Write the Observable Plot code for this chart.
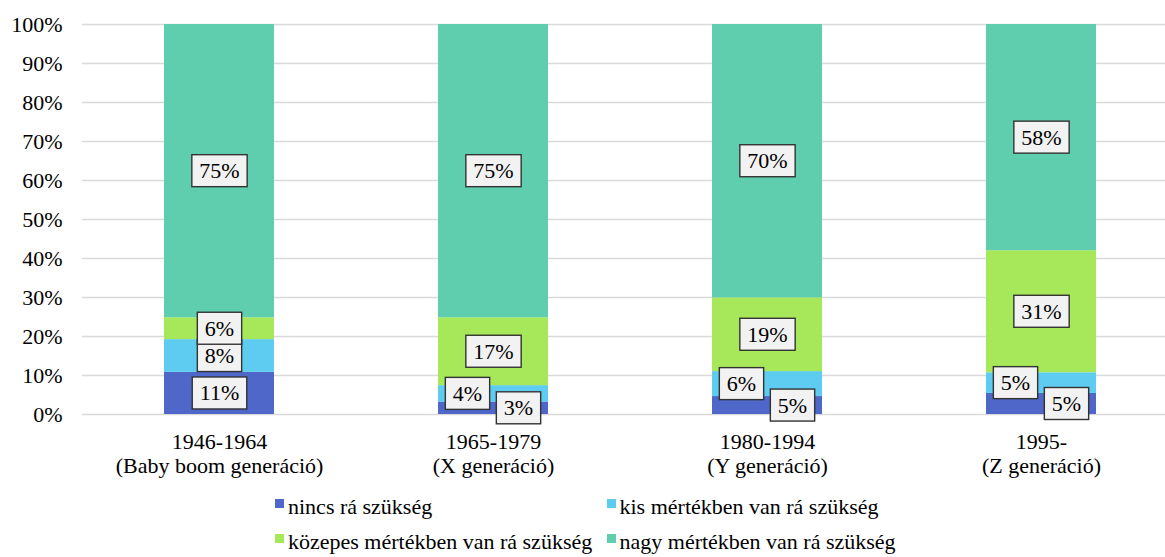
<!DOCTYPE html>
<html>
<head>
<meta charset="utf-8">
<script src="https://cdn.jsdelivr.net/npm/d3@7"></script>
<script src="https://cdn.jsdelivr.net/npm/@observablehq/plot@0.6"></script>
<style>
  html, body { margin: 0; padding: 0; background: #fff; font-family: 'Liberation Serif', 'Times New Roman', serif; }
  #chart svg { display: block; }
  .legend { display: flex; flex-wrap: wrap; padding-left: 275px; width: 700px; margin-top: 9px;
            font-family: 'Liberation Serif', 'Times New Roman', serif; font-size: 22px; color: #000; }
  .legend .item { width: 331.5px; height: 35px; display: flex; align-items: center; white-space: nowrap; }
  .legend .sw { width: 9px; height: 9px; margin-right: 4px; flex: none; position: relative; top: -3px; }
</style>
</head>
<body>
<div id="chart"></div>
<script>
const generations = ["1946-1964", "1965-1979", "1980-1994", "1995-"];
const genNames = ["(Baby boom generáció)", "(X generáció)", "(Y generáció)", "(Z generáció)"];
const categories = [
  "nincs rá szükség",
  "kis mértékben van rá szükség",
  "közepes mértékben van rá szükség",
  "nagy mértékben van rá szükség"
];
const nincs   = [10.8, 3.2, 4.6, 5.4];
const kis     = [8.4, 4.2, 6.4, 5.3];
const kozepes = [5.6, 17.4, 18.9, 31.3];
const nagy    = [75.2, 75.2, 70.1, 58.0];
const colors = ["#4E67C8", "#5ECCF0", "#A7E85A", "#5FCEAF"];
const yTicks = [0, 10, 20, 30, 40, 50, 60, 70, 80, 90, 100];

const series = [nincs, kis, kozepes, nagy];
const data = [];
generations.forEach((g, gi) => {
  categories.forEach((c, ci) => {
    data.push({gen: g, gi, cat: c, ci, value: series[ci][gi]});
  });
});

const fmt = d => Math.round(d.value) + "%";
const shiftedLeft = d => d.gi > 0 && d.ci === 1;
const shiftedRight = d => d.gi > 0 && d.ci === 0;
const centered = d => !shiftedLeft(d) && !shiftedRight(d);

const font = "'Liberation Serif', 'Times New Roman', serif";
const txt = {fill: "#000", fontSize: 22, fontFamily: font, className: "seglabel"};

const chart = Plot.plot({
  width: 1165,
  height: 480,
  marginLeft: 82,
  marginRight: 0,
  marginTop: 24,
  marginBottom: 66,
  style: {fontFamily: font, fontSize: "22px", color: "#000", background: "#fff"},
  x: {domain: generations, range: [82, 1178], paddingInner: 0.6, paddingOuter: 0.3, label: null},
  y: {domain: [0, 100], label: null},
  color: {domain: categories, range: colors},
  marks: [
    Plot.ruleY(yTicks, {stroke: "#d9d9d9", strokeWidth: 1.5}),
    Plot.barY(data, {x: "gen", y: "value", fill: "cat", z: "ci"}),
    Plot.text(data, Plot.stackY({x: "gen", y: "value", z: "ci", text: d => centered(d) ? fmt(d) : "", ...txt})),
    Plot.text(data, Plot.stackY({x: "gen", y: "value", z: "ci", text: d => shiftedLeft(d) ? fmt(d) : "", dx: -26, ...txt})),
    Plot.text(data, Plot.stackY({x: "gen", y: "value", z: "ci", text: d => shiftedRight(d) ? fmt(d) : "", dx: 25, ...txt})),
    Plot.axisY(yTicks, {tickSize: 0, tickPadding: 20, tickFormat: d => d + "%", fontSize: 22, fontFamily: font, fill: "#000"}),
    Plot.axisX({tickSize: 0, tickPadding: 17, lineHeight: 1.11, fontSize: 22, fontFamily: font, fill: "#000",
      tickFormat: d => d + "\n" + genNames[generations.indexOf(d)]})
  ]
});

document.getElementById("chart").appendChild(chart);

// boxes behind the data labels
chart.querySelectorAll("g.seglabel text").forEach(t => {
  if (!t.textContent.trim()) return;
  const b = t.getBBox();
  const padX = 7.5, padY = 3.5;
  const r = document.createElementNS("http://www.w3.org/2000/svg", "rect");
  r.setAttribute("x", b.x - padX);
  r.setAttribute("y", b.y - padY);
  r.setAttribute("width", b.width + 2 * padX);
  r.setAttribute("height", b.height + 2 * padY);
  r.setAttribute("fill", "#f2f2f2");
  r.setAttribute("stroke", "#333");
  r.setAttribute("stroke-width", 1.4);
  const tr = t.getAttribute("transform");
  if (tr) r.setAttribute("transform", tr);
  t.parentNode.insertBefore(r, t);
});

// legend
const color = chart.scale("color");
const legend = document.createElement("div");
legend.className = "legend";
color.domain.forEach((c, i) => {
  const item = document.createElement("div");
  item.className = "item";
  const sw = document.createElement("span");
  sw.className = "sw";
  sw.style.background = color.range[i];
  const tx = document.createElement("span");
  tx.textContent = c;
  item.appendChild(sw);
  item.appendChild(tx);
  legend.appendChild(item);
});
document.getElementById("chart").appendChild(legend);
</script>
</body>
</html>
